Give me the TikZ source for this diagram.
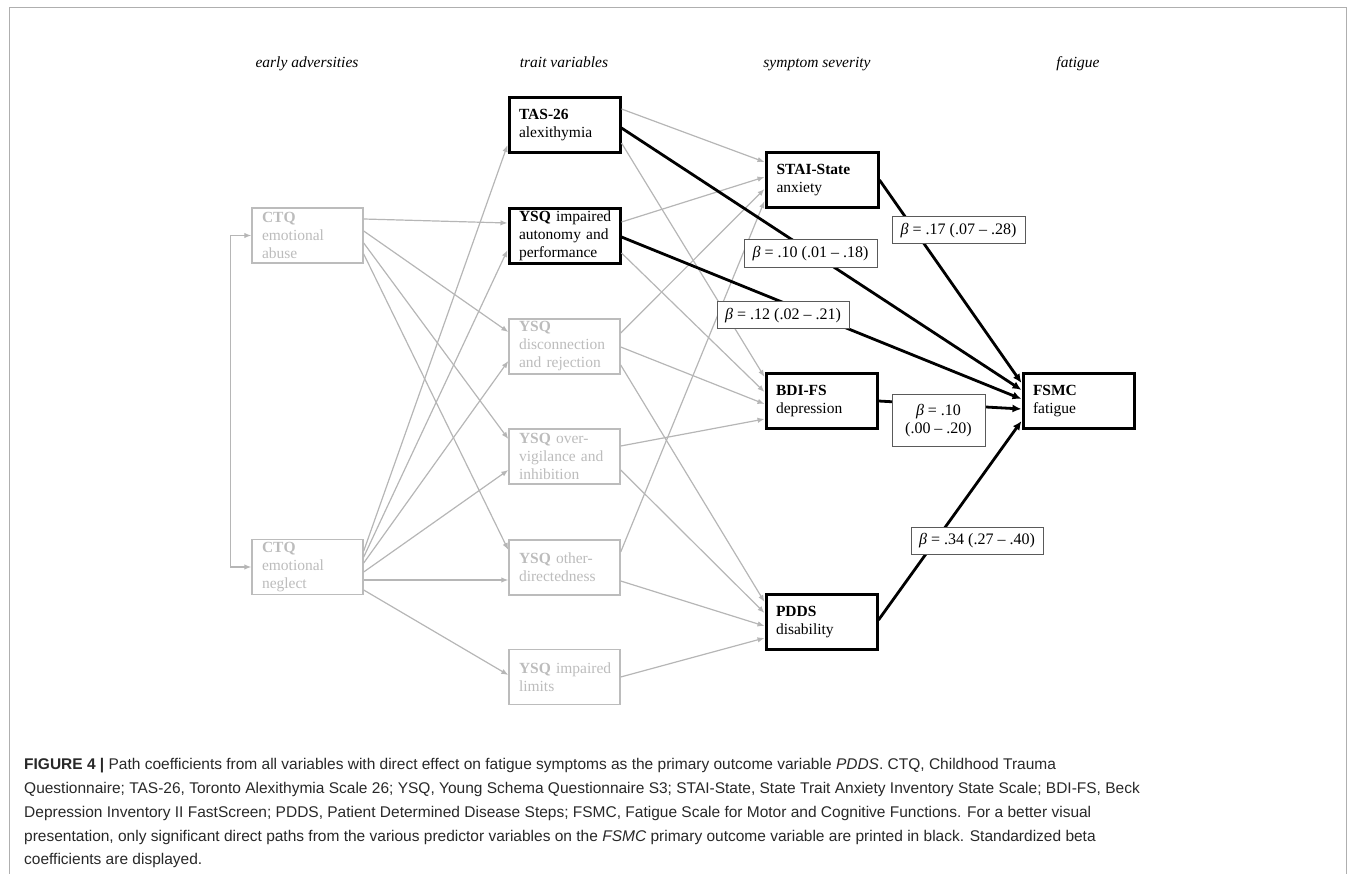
\documentclass[tikz,border=0pt]{standalone}
\usepackage{fontspec}
\setmainfont{Liberation Serif}
\newfontfamily\capfont{Liberation Sans}
\usetikzlibrary{arrows.meta}
\definecolor{lg}{RGB}{188,188,188}
\definecolor{lgline}{RGB}{182,182,182}
\definecolor{lbl}{RGB}{90,90,90}
\definecolor{captxt}{RGB}{40,40,40}
\definecolor{framec}{RGB}{175,175,175}
\tikzset{
 box/.style={rectangle, minimum width=111pt, minimum height=55pt, text width=91pt, align=left, inner sep=0pt, font=\fontsize{15.5}{18}\selectfont},
 gbox/.style={box, draw=lg, text=lg, line width=1.4pt},
 bbox/.style={box, draw=black, line width=3pt},
 garr/.style={draw=lgline, line width=1.2pt, -{Latex[length=7pt,width=5.5pt]}},
 barr/.style={draw=black, line width=2.8pt, -{Latex[length=9pt,width=8pt]}},
 lab/.style={draw=lbl, line width=1pt, fill=white, inner sep=0pt, font=\fontsize{16}{18}\selectfont, align=center},
 hdr/.style={anchor=base, inner sep=0pt, font=\fontsize{15.5}{18}\selectfont\itshape},
 captext/.style={anchor=base west, inner sep=0pt, text=captxt, font=\capfont\fontsize{15.5}{18}\selectfont},
}
\begin{document}
\begin{tikzpicture}[x=1pt,y=-1pt]
\useasboundingbox (0,0) rectangle (1355,874);
\draw[framec, line width=1pt] (9,874) -- (9,8) -- (1346,8) -- (1346,874);

% headers
\node[hdr] (h1) at (307,68) {early adversities};
\node[hdr] (h2) at (564,68) {trait variables};
\node[hdr] (h3) at (817,68) {symptom severity};
\node[hdr] (h4) at (1078,68) {fatigue};

% early adversities
\node[gbox] (abuse) at (307.5,235.5) {\textbf{CTQ}\\emotional\\abuse};
\node[gbox] (neglect) at (307.5,567) {\textbf{CTQ}\\emotional\\neglect};

% trait variables
\node[bbox] (tas) at (564.5,125) {\textbf{TAS-26}\\alexithymia};
\node[bbox] (auton) at (564.5,236) {\mbox{\textbf{YSQ} impaired}\\\mbox{autonomy and}\\performance};
\node[gbox] (disc) at (564.5,346.5) {\textbf{YSQ}\\disconnection\\and rejection};
\node[gbox] (overv) at (564.5,456.5) {\mbox{\textbf{YSQ} over-}\\\mbox{vigilance and}\\inhibition};
\node[gbox] (otherd) at (564.5,567.5) {\mbox{\textbf{YSQ} other-}\\directedness};
\node[gbox] (limits) at (564.5,677) {\mbox{\textbf{YSQ} impaired}\\limits};

% symptom severity
\node[bbox, minimum width=112pt] (stai) at (822,180.5) {\textbf{STAI-State}\\anxiety};
\node[bbox] (bdi) at (821.5,401) {\textbf{BDI-FS}\\depression};
\node[bbox] (pdds) at (821.5,622) {\textbf{PDDS}\\disability};

% fatigue
\node[bbox] (fsmc) at (1078.5,401) {\textbf{FSMC}\\fatigue};

% correlation between CTQ scales
\draw[draw=lgline, line width=1.2pt, {Latex[length=7pt,width=5.5pt]}-{Latex[length=7pt,width=5.5pt]}] (abuse.west) -- ++(-21,0) |- (neglect.west);

% gray paths: CTQ abuse
\draw[garr] (abuse.east |- 0,219) -- (auton.west |- 0,223);
\draw[garr] (abuse.east |- 0,231) -- (disc.west |- 0,332);
\draw[garr] (abuse.east |- 0,243) -- (overv.west |- 0,439);
\draw[garr] (abuse.east |- 0,254) -- (otherd.west |- 0,550);
% gray paths: CTQ neglect
\draw[garr] (neglect.east |- 0,551) -- (tas.west |- 0,145);
\draw[garr] (neglect.east |- 0,557) -- (auton.west |- 0,250);
\draw[garr] (neglect.east |- 0,563) -- (disc.west |- 0,361);
\draw[garr] (neglect.east |- 0,572) -- (overv.west |- 0,470);
\draw[garr] (neglect.east |- 0,580) -- (otherd.west |- 0,580);
\draw[garr] (neglect.east |- 0,590) -- (limits.west |- 0,675);
% gray paths: traits to symptoms
\draw[garr] (tas.east |- 0,109) -- (stai.west |- 0,162);
\draw[garr] (tas.east |- 0,143) -- (bdi.west |- 0,377);
\draw[garr] (auton.east |- 0,222) -- (stai.west |- 0,177);
\draw[garr] (auton.east |- 0,253) -- (bdi.west |- 0,392);
\draw[garr] (disc.east |- 0,333) -- (stai.west |- 0,189);
\draw[garr] (disc.east |- 0,347) -- (bdi.west |- 0,404);
\draw[garr] (disc.east |- 0,365) -- (pdds.west |- 0,602);
\draw[garr] (overv.east |- 0,446) -- (bdi.west |- 0,419);
\draw[garr] (overv.east |- 0,470) -- (pdds.west |- 0,613);
\draw[garr] (otherd.east |- 0,552) -- (stai.west |- 0,201);
\draw[garr] (otherd.east |- 0,581) -- (pdds.west |- 0,626);
\draw[garr] (limits.east |- 0,677) -- (pdds.west |- 0,638);

% black significant paths
\draw[barr] (stai.east |- 0,180) -- (fsmc.west |- 0,383);
\draw[barr] (tas.east |- 0,128) -- (fsmc.west |- 0,390);
\draw[barr] (auton.east |- 0,237) -- (fsmc.west |- 0,399);
\draw[barr] (bdi.east |- 0,401) -- (fsmc.west |- 0,409);
\draw[barr] (pdds.east |- 0,620) -- (fsmc.west |- 0,421);

% coefficient labels
\node[lab, minimum width=133pt, minimum height=27pt] (l17) at (958.5,230.5) {\textit{β} = .17 (.07 – .28)};
\node[lab, minimum width=133pt, minimum height=28pt] (l10a) at (810.5,254) {\textit{β} = .10 (.01 – .18)};
\node[lab, minimum width=132pt, minimum height=27pt] (l12) at (783,315.5) {\textit{β} = .12 (.02 – .21)};
\node[lab, minimum width=93pt, minimum height=52pt] (l10b) at (938.5,421) {\textit{β} = .10\\(.00 – .20)};
\node[lab, minimum width=132pt, minimum height=27pt] (l34) at (977,540.5) {\textit{β} = .34 (.27 – .40)};

% caption
\node[captext] (cap1) at (24,769) {\textbf{FIGURE 4} \textbf{|} Path coefficients from all variables with direct effect on fatigue symptoms as the primary outcome variable \textit{PDDS}. CTQ, Childhood Trauma};
\node[captext] (cap2) at (24,793) {Questionnaire; TAS-26, Toronto Alexithymia Scale 26; YSQ, Young Schema Questionnaire S3; STAI-State, State Trait Anxiety Inventory State Scale; BDI-FS, Beck};
\node[captext] (cap3) at (24,817) {Depression Inventory II FastScreen; PDDS, Patient Determined Disease Steps; FSMC, Fatigue Scale for Motor and Cognitive Functions. For a better visual};
\node[captext] (cap4) at (24,841) {presentation, only significant direct paths from the various predictor variables on the \textit{FSMC} primary outcome variable are printed in black. Standardized beta};
\node[captext] (cap5) at (24,864) {coefficients are displayed.};
\end{tikzpicture}
\end{document}
